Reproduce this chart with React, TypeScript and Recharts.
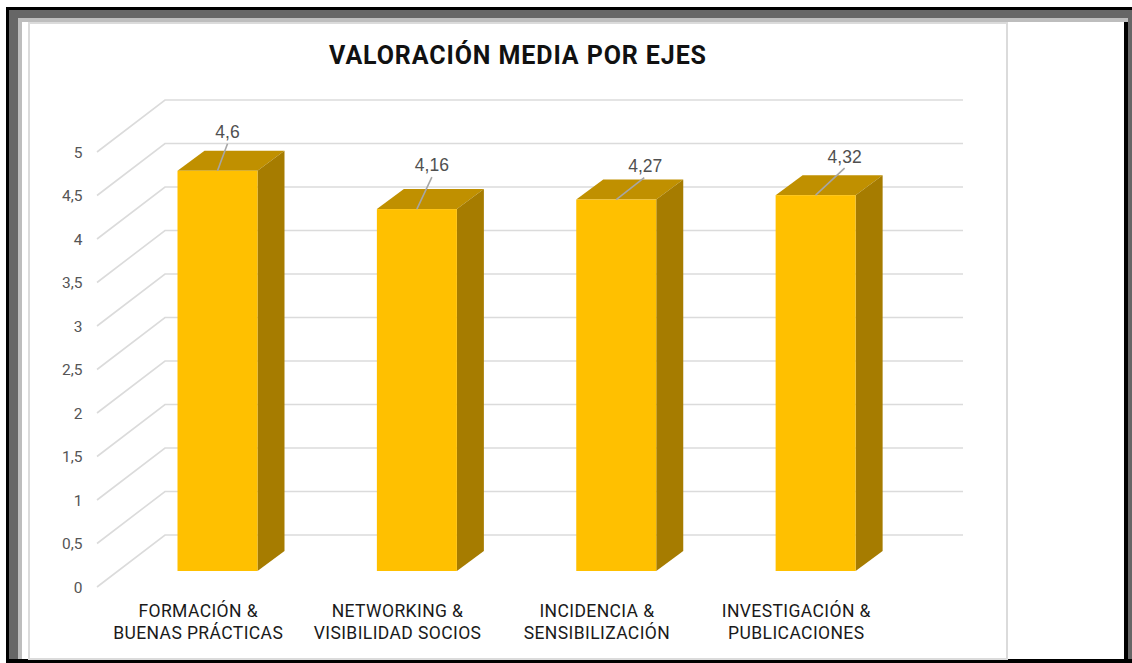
import { BarChart, Bar, XAxis, YAxis, CartesianGrid, LabelList } from 'recharts'

const categories = [
  'FORMACIÓN &\nBUENAS PRÁCTICAS',
  'NETWORKING &\nVISIBILIDAD SOCIOS',
  'INCIDENCIA &\nSENSIBILIZACIÓN',
  'INVESTIGACIÓN &\nPUBLICACIONES',
]
const values = [4.6, 4.16, 4.27, 4.32]
const yTicks = [0, 0.5, 1, 1.5, 2, 2.5, 3, 3.5, 4, 4.5, 5]

// where each value label sits relative to the top centre of its bar
const labelOffsets = [
  { lineX: 10, lineY: -27, textX: 10, textY: -39 },
  { lineX: 15, lineY: -32, textX: 15, textY: -44 },
  { lineX: 28, lineY: -22, textX: 29, textY: -34 },
  { lineX: 29, lineY: -27, textX: 29, textY: -38 },
]

const data = categories.map((name, i) => ({ name, value: values[i] }))

const FONT = 'Roboto, sans-serif'
const comma = (v: number) => String(v).replace('.', ',')

function Bar3D({ x, y, width, height }: any) {
  const dx = 27
  const dy = -20
  return (
    <g>
      <polygon
        points={`${x},${y} ${x + dx},${y + dy} ${x + width + dx},${y + dy} ${x + width},${y}`}
        fill="#C09000"
      />
      <polygon
        points={`${x + width},${y} ${x + width + dx},${y + dy} ${x + width + dx},${y + height + dy} ${x + width},${y + height}`}
        fill="#A67C00"
      />
      <rect x={x} y={y} width={width} height={height} fill="#FFC000" />
    </g>
  )
}

function GridShape({ y1 }: any) {
  const back = y1 - 36
  const front = y1 + 16
  return (
    <path
      d={`M97,${front} L165,${back} L963,${back}`}
      fill="none"
      stroke="#DBDBDB"
      strokeWidth={1.6}
    />
  )
}

function YTick({ x, y, payload }: any) {
  return (
    <text x={x - 27} y={y + 21.5} textAnchor="end" fontFamily={FONT} fontSize={15.5} fill="#555555">
      {comma(payload.value)}
    </text>
  )
}

function XTick({ x, y, payload }: any) {
  const lines = String(payload.value).split('\n')
  return (
    <text textAnchor="middle" fontFamily={FONT} fontSize={17.5} letterSpacing={0.4} fill="#1a1a1a">
      {lines.map((line, i) => (
        <tspan key={line} x={x - 19} y={y + 38 + i * 22}>
          {line}
        </tspan>
      ))}
    </text>
  )
}

function ValueLabel({ x, y, width, value, index }: any) {
  const o = labelOffsets[index]
  const cx = x + width / 2
  return (
    <g>
      <line x1={cx} y1={y} x2={cx + o.lineX} y2={y + o.lineY} stroke="#A6A6A6" strokeWidth={1.6} />
      <text
        x={cx + o.textX}
        y={y + o.textY + 6}
        textAnchor="middle"
        fontFamily="'Liberation Sans', Arial, sans-serif"
        fontSize={17.5}
        fill="#505050"
      >
        {comma(value)}
      </text>
    </g>
  )
}

function Box({ l, t, r, b, bg }: { l: number; t: number; r: number; b: number; bg: string }) {
  return <div style={{ position: 'absolute', left: l, top: t, width: r - l, height: b - t, background: bg }} />
}

export default function App() {
  return (
    <div style={{ position: 'absolute', left: 0, top: 0, width: 1132, height: 663, background: '#fff', overflow: 'hidden' }}>
      {/* window frame */}
      <Box l={6} t={7} r={1132} b={663} bg="#000" />
      <Box l={9} t={10} r={1132} b={659} bg="#666" />
      <Box l={18} t={18} r={1128} b={659} bg="#BDBDBD" />
      <Box l={22} t={22} r={1124} b={659} bg="#fff" />
      <Box l={1124} t={22} r={1128} b={663} bg="#000" />
      <Box l={1128} t={18} r={1132} b={663} bg="#666" />
      <Box l={18} t={659} r={1132} b={663} bg="#000" />
      {/* chart area border */}
      <Box l={28} t={22} r={1008} b={660} bg="#DBDBDB" />
      <Box l={30} t={24} r={1006} b={658} bg="#fff" />

      <div
        style={{
          position: 'absolute',
          left: 30,
          width: 976,
          top: 40,
          textAlign: 'center',
          fontFamily: FONT,
          fontWeight: 700,
          fontSize: 25,
          letterSpacing: 0.9,
          lineHeight: '32px',
          color: '#111',
        }}
      >
        VALORACIÓN MEDIA POR EJES
      </div>

      <div style={{ position: 'absolute', left: 0, top: 0 }}>
        <BarChart
          width={1132}
          height={663}
          data={data}
          barSize={80}
          margin={{ top: 136, right: 217, bottom: 0, left: 77.5 }}
          style={{ overflow: 'visible' }}
        >
          <CartesianGrid vertical={false} horizontal={<GridShape />} horizontalValues={yTicks} />
          <XAxis
            dataKey="name"
            axisLine={false}
            tickLine={false}
            tick={<XTick />}
            interval={0}
            height={92}
          />
          <YAxis
            domain={[0, 5]}
            ticks={yTicks}
            axisLine={false}
            tickLine={false}
            tick={<YTick />}
            width={40}
            interval={0}
          />
          <Bar dataKey="value" shape={<Bar3D />} isAnimationActive={false}>
            <LabelList dataKey="value" content={<ValueLabel />} />
          </Bar>
        </BarChart>
      </div>
    </div>
  )
}
